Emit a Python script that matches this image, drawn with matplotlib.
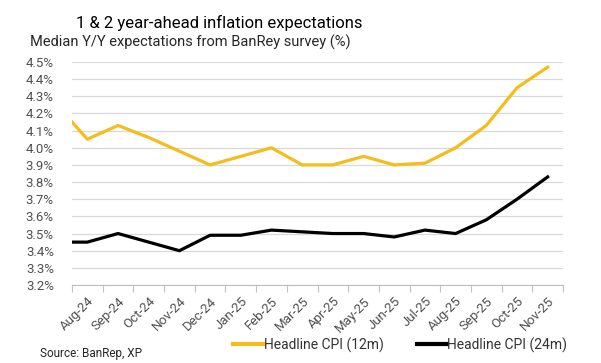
import matplotlib
matplotlib.use("Agg")
import matplotlib.pyplot as plt
from matplotlib.lines import Line2D
import numpy as np

plt.rcParams['font.family'] = ['Roboto', 'DejaVu Sans']

months = ["Aug-24", "Sep-24", "Oct-24", "Nov-24", "Dec-24", "Jan-25", "Feb-25",
          "Mar-25", "Apr-25", "May-25", "Jun-25", "Jul-25", "Aug-25", "Sep-25",
          "Oct-25", "Nov-25"]
# first value is the line's starting point at the left edge of the axis
cpi_12m_start = 4.15
cpi_12m = [4.05, 4.13, 4.06, 3.98, 3.90, 3.95, 4.00, 3.90, 3.90, 3.95, 3.90,
           3.91, 4.00, 4.13, 4.35, 4.47]
cpi_24m_start = 3.45
cpi_24m = [3.45, 3.50, 3.45, 3.40, 3.49, 3.49, 3.52, 3.51, 3.50, 3.50, 3.48,
           3.52, 3.50, 3.58, 3.70, 3.83]
yticks = [3.2, 3.3, 3.4, 3.5, 3.6, 3.7, 3.8, 3.9, 4.0, 4.1, 4.2, 4.3, 4.4, 4.5]

YEL = '#F5BC1C'
BLK = '#000000'
GRAY = '#505050'

fig = plt.figure(figsize=(6.01, 3.63), dpi=100)
W, H = 601, 363
ax = fig.add_axes([72 / W, 1 - 285 / H, (563 - 72) / W, (285 - 62) / H])

n = len(months)
x = np.arange(n)
left = -0.5
xs = np.concatenate([[left], x])
ax.plot(xs, [cpi_12m_start] + cpi_12m, color=YEL, lw=2.3, solid_joinstyle='round')
ax.plot(xs, [cpi_24m_start] + cpi_24m, color=BLK, lw=2.3, solid_joinstyle='round')

ax.set_xlim(left, n - 0.5)
ax.set_ylim(3.2, 4.5)
ax.set_yticks(yticks)
ax.set_yticklabels([f"{v:.1f}%" for v in yticks], color=GRAY, fontsize=9.5)
ax.yaxis.grid(True, color='#D9D9D9', lw=0.9)
ax.set_axisbelow(True)
ax.tick_params(axis='y', length=0, pad=13)

ax.set_xticks(x)
ax.set_xticklabels(months, rotation=45, ha='right', rotation_mode='anchor',
                   color=GRAY, fontsize=9.5)
ax.set_xticks(np.arange(n + 1) - 0.5, minor=True)
ax.tick_params(axis='x', which='major', length=0, pad=7)
ax.tick_params(axis='x', which='minor', length=5, color='#BFBFBF', width=0.8)

for s in ['top', 'right', 'left']:
    ax.spines[s].set_visible(False)
ax.spines['bottom'].set_color('#BFBFBF')
ax.spines['bottom'].set_linewidth(0.8)

fig.text(219 / W, 1 - 23 / H, "1 & 2 year-ahead inflation expectations",
         ha='center', va='center', fontsize=12, color='#000000')
fig.text(30 / W, 1 - 42 / H, "Median Y/Y expectations from BanRey survey (%)",
         ha='left', va='center', fontsize=10.5, color='#262626')
fig.text(40 / W, 1 - 353 / H, "Source: BanRep, XP", ha='left', va='center',
         fontsize=8.5, color='#262626')

handles = [Line2D([], [], color=YEL, lw=3), Line2D([], [], color=BLK, lw=3)]
fig.legend(handles, ["Headline CPI (12m)", "Headline CPI (24m)"], ncol=2,
           loc='center left', bbox_to_anchor=(229 / W, 1 - 345 / H),
           frameon=False, prop={'size': 10}, handlelength=2.2,
           handletextpad=0.0, columnspacing=2.4, labelcolor='#333333',
           borderaxespad=0, borderpad=0.3)

fig.savefig('out.png', dpi=100)
